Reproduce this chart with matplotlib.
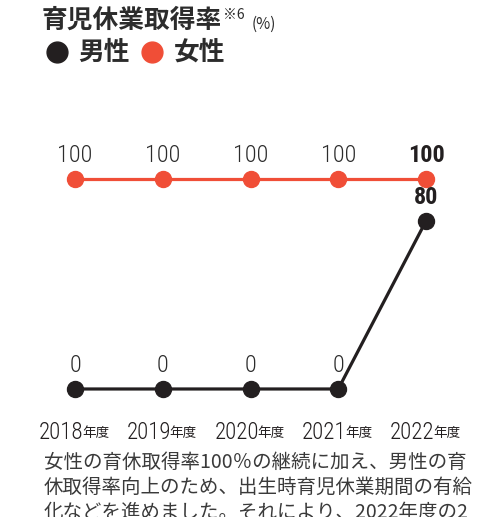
import matplotlib
matplotlib.use("Agg")
import matplotlib.pyplot as plt
from matplotlib.lines import Line2D

plt.rcParams['font.family'] = ['Noto Sans CJK JP', 'DejaVu Sans']

years = ['2018', '2019', '2020', '2021', '2022']
male = [0, 0, 0, 0, 80]
female = [100, 100, 100, 100, 100]

red = '#f04e37'
black = '#231f20'
gray = '#2c2c2c'
# condensed digits if any such family is installed
num_font = ['Roboto Condensed', 'DejaVu Sans Condensed', 'Liberation Sans Narrow',
            'Roboto', 'Noto Sans CJK JP']

fig = plt.figure(figsize=(4.87, 5.17), dpi=100)
ax = fig.add_axes([0, 0, 1, 1])
ax.set_xlim(-0.855, 4.695)
ax.set_ylim(-60.95, 185.2)
ax.axis('off')

x = list(range(len(years)))
ax.plot(x, female, color=red, lw=2.3, marker='o', ms=11.5, zorder=3)
ax.plot(x, male, color=black, lw=2.3, marker='o', ms=11.5, zorder=3)

for series in (female, male):
    for i, v in enumerate(series):
        last = i == len(x) - 1
        ax.text(i, v + 11, str(v), ha='center', va='center', fontsize=17.5,
                family=num_font, color=black if last else gray,
                weight='bold' if last else 'light')

# x labels
for i, y in enumerate(years):
    ax.annotate(y, (i, 0), xytext=(6, -31), textcoords='offset points',
                ha='right', va='center', fontsize=16.5, family=num_font,
                color=black, weight='light')
    ax.annotate('年度', (i, 0), xytext=(5, -31.5), textcoords='offset points',
                ha='left', va='center', fontsize=9.8, color=black)

# title and legend
fig.text(42 / 487, 1 - 20 / 517, '育児休業取得率', fontsize=18.5, weight='bold',
         color=gray, ha='left', va='center')
fig.text(223 / 487, 1 - 15 / 517, '※6', fontsize=10, color=gray, ha='left', va='center')
fig.text(252 / 487, 1 - 24 / 517, '(%)', fontsize=11, color=gray, ha='left', va='center')

for cx, col in ((57, black), (152, red)):
    fig.add_artist(Line2D([cx / 487], [1 - 52 / 517], transform=fig.transFigure,
                          marker='o', ms=15, color=col, lw=0))
fig.text(78 / 487, 1 - 52 / 517, '男性', fontsize=18.5, weight='bold', color=gray,
         ha='left', va='center')
fig.text(174 / 487, 1 - 52 / 517, '女性', fontsize=18.5, weight='bold', color=gray,
         ha='left', va='center')

body = ['女性の育休取得率100％の継続に加え、男性の育',
        '休取得率向上のため、出生時育児休業期間の有給',
        '化などを進めました。それにより、2022年度の2']
for k, line in enumerate(body):
    fig.text(44 / 487, 1 - (462 + 25.5 * k) / 517, line, fontsize=14, color='#3a3a3a',
             ha='left', va='center')

fig.savefig('out.png', dpi=100)
